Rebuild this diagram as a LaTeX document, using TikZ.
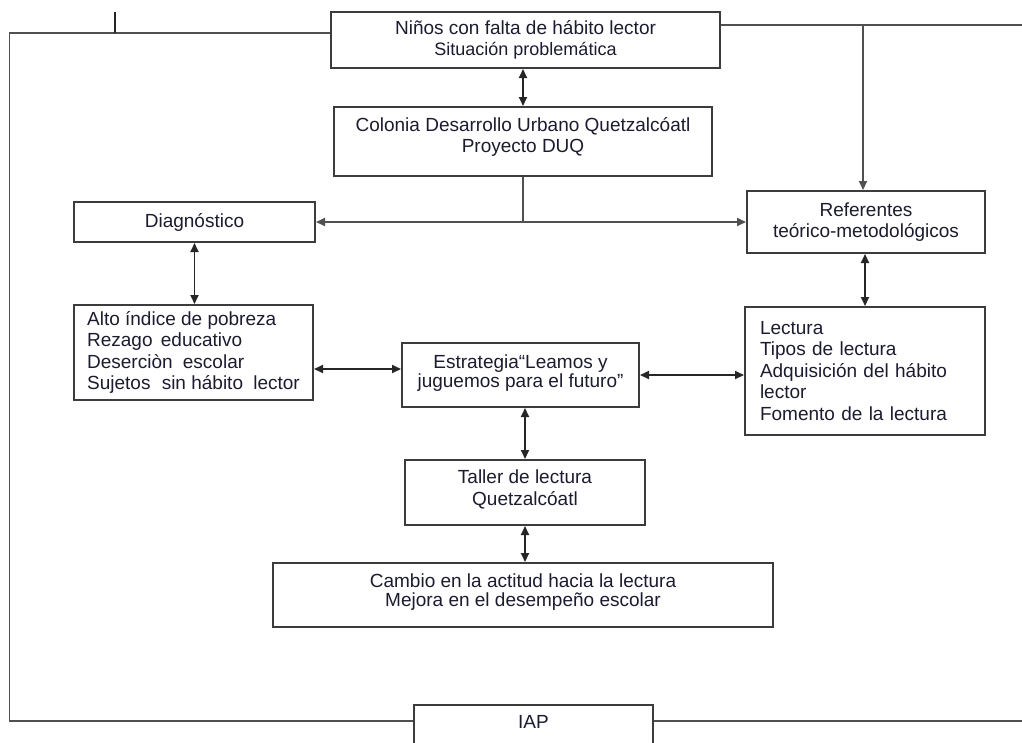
\documentclass[tikz,border=0pt]{standalone}
\usepackage{fontspec}
\setmainfont{Liberation Sans}
\usetikzlibrary{arrows.meta,calc}
\definecolor{txt}{RGB}{28,28,48}
\definecolor{edge}{RGB}{60,60,60}
\definecolor{wire}{RGB}{80,80,80}
\tikzset{
  box/.style={draw=edge, line width=2pt, rectangle, align=center, inner sep=0pt,
    text=txt, font=\fontsize{19}{21.5}\selectfont},
  wireline/.style={draw=wire, line width=1.8pt},
  onearrow/.style={wireline, -{Triangle[length=9pt,width=8pt]}},
  twoarrow/.style={draw=black!85, line width=1.8pt, {Triangle[length=9pt,width=8pt]}-{Triangle[length=9pt,width=8pt]}},
}
\begin{document}
\begin{tikzpicture}[x=1pt,y=-1pt]
\useasboundingbox (0,0) rectangle (1022,742);
\fill[white] (0,0) rectangle (1022,742);

\node[box, minimum width=389pt, minimum height=56pt] (nin) at (525.5,40)
  {Niños con falta de hábito lector\\[-1pt]{\fontsize{18}{20}\selectfont Situación problemática}};
\node[box, minimum width=378pt, minimum height=69pt] (col) at (523,141.5)
  {Colonia Desarrollo Urbano Quetzalcóatl\\Proyecto DUQ\\[-9pt]};
\node[box, minimum width=241pt, minimum height=40pt] (diag) at (194.5,222)
  {Diagnóstico};
\node[box, minimum width=238pt, minimum height=62pt] (ref) at (866,222)
  {Referentes\\teórico-metodológicos};
\node[box, minimum width=239pt, minimum height=95pt, align=left] (alto) at (193.5,352.5)
  {Alto índice de pobreza\\Rezago\hspace{3pt} educativo\\Deserciòn\hspace{5pt} escolar\\Sujetos\hspace{6pt} sin hábito\hspace{5pt} lector};
\node[box, minimum width=237pt, minimum height=64pt] (est) at (520.5,375)
  {Estrategia“Leamos y\\[-2pt]juguemos para el futuro”\\[-14pt]};
\node[box, minimum width=240pt, minimum height=128pt, align=left, text width=210pt,
  inner xsep=15pt] (lect) at (865,371)
  {Lectura\\Tipos de lectura\\Adquisición del hábito\\lector\\Fomento de la lectura\\[6pt]};
\node[box, minimum width=240pt, minimum height=65pt] (tall) at (525,492.5)
  {Taller de lectura\\[1pt]Quetzalcóatl\\[-12pt]};
\node[box, minimum width=500pt, minimum height=64pt] (camb) at (523,595)
  {Cambio en la actitud hacia la lectura\\[-3pt]Mejora en el desempeño escolar\\[-12pt]};
\node[box, minimum width=239pt, anchor=north, inner ysep=9pt, text height=14pt,
  text depth=40pt] (iap) at (533.5,704) {IAP};

% frame lines
\coordinate (tl) at (9.5,33);
\coordinate (bl) at (9.5,721);
\coordinate (br) at (1022,721);
\coordinate (tr) at (1022,25);
\coordinate (tj) at (863,25);
\coordinate (tk) at (115,12);
\draw[wireline] (nin.west |- tl) -- (tl) -- (bl) -- (iap.west |- bl);
\draw[wireline] (iap.east |- br) -- (br);
\draw[wireline] (nin.east |- tr) -- (tr);
\draw[draw=black!85, line width=2pt] (tk) -- (tk |- tl);
\draw[onearrow] (tj) -- (tj |- ref.north);

% connectors
\draw[twoarrow] (col.north |- nin.south) -- (col.north);
\draw[wireline] (col.south) -- (col.south |- diag.east) coordinate (sp);
\draw[onearrow] (sp) -- (diag.east);
\draw[onearrow] (sp) -- (ref.west);
\draw[twoarrow] (diag.south) -- (diag.south |- alto.north);
\coordinate (ae) at ([yshift=6pt]est.west);
\draw[twoarrow] (alto.east |- ae) -- (ae);
\draw[twoarrow] (est.east) -- (est.east -| lect.west);
\draw[twoarrow] (lect.north |- ref.south) -- (lect.north);
\draw[twoarrow] (tall.north |- est.south) -- (tall.north);
\draw[twoarrow] (tall.south) -- (tall.south |- camb.north);
\end{tikzpicture}
\end{document}
